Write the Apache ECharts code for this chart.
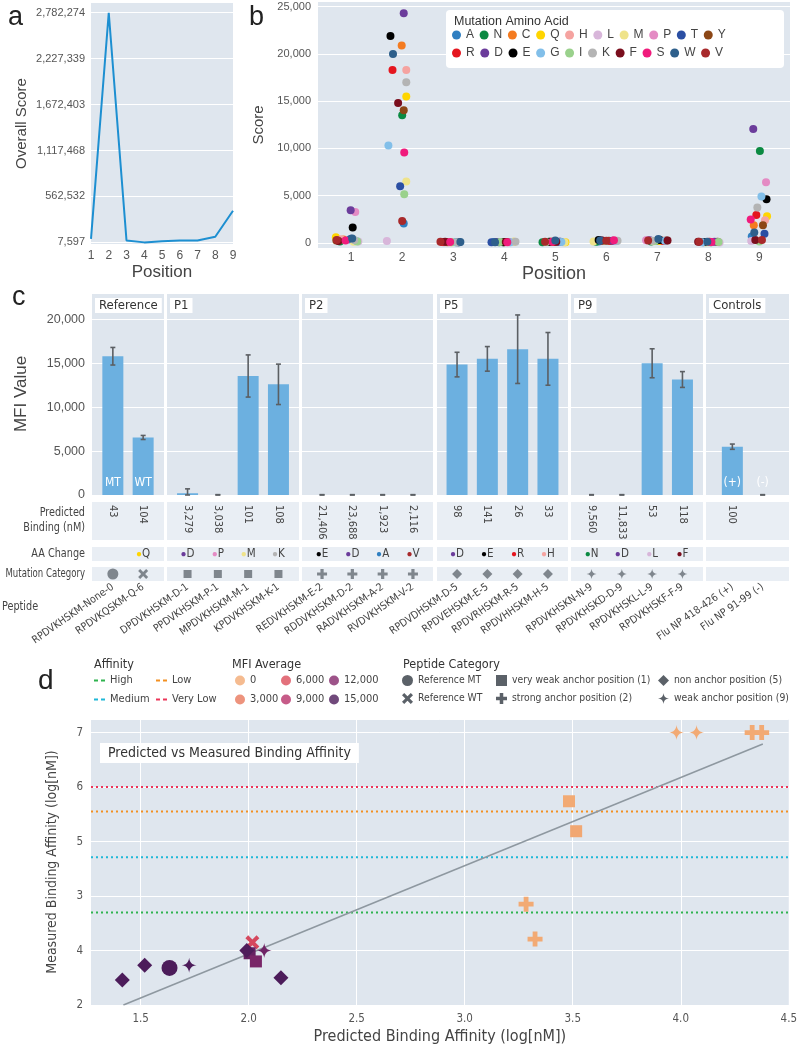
<!DOCTYPE html>
<html><head><meta charset="utf-8">
<script src="https://cdn.jsdelivr.net/npm/echarts@6/dist/echarts.min.js"></script>
<style>html,body{margin:0;padding:0;background:#fff}#c{width:800px;height:1050px}</style>
</head><body><div id="c"></div><script>
// ---------------- DATA ----------------
// Panel a
const positions = [1,2,3,4,5,6,7,8,9];
const overallScore = [50000, 2782274, 30000, 7597, 20000, 30000, 30000, 75000, 390000];
const overallTicks = [7597, 562532, 1117468, 1672403, 2227339, 2782274];

// Panel b  (order of amino acids)
const aminoAcids = ['A','N','C','Q','H','L','M','P','T','Y','R','D','E','G','I','K','F','S','W','V'];
const aaColors = ['#2f7fc1','#0b8a42','#f47b20','#ffd500','#f5a3a0','#d8b6da','#efe38a','#e48bc4','#2b4fa3','#8c4716',
                  '#e5161f','#6b3c9b','#000000','#82bfe9','#9ad18c','#b4b4b4','#7a0e1d','#f01b7c','#2e5f8b','#a8292b'];
const scoreTicks = [0,5000,10000,15000,20000,25000];
//                A     N     C     Q     H     L    M     P     T     Y     R     D     E     G     I     K     F     S     W     V
const scorePos1 = [350,  150,  350,  600,  380,  150, 100,  3250, 420,  250,  null, 3460, 1620, 200,  150,  300,  200,  250,  450,  300];
const scorePos2 = [2050, 13500,20900,15500,18300,200, 6500, null, 6000, 14050,18300,24300,21900,10300,5150, 17000,14800,9570, 20000,2300];
const scorePos3 = [60,   80,   70,   50,   60,   40,  50,   60,   70,   80,   90,   null, 60,   50,   70,   60,   100,  80,   90,   110];
const scorePos4 = [80,   60,   90,   100,  70,   90,  100,  80,   60,   70,   80,   90,   70,   60,   80,   100,  90,   70,   60,   null];
const scorePos5 = [80,   60,   100,  50,   90,   70,  60,   80,   100,  120,  90,   110,  100,  80,   90,   null, 100,  110,  250,  120];
const scorePos6 = [150,  120,  180,  200,  null, 160, 150,  200,  250,  220,  200,  230,  300,  180,  200,  210,  240,  260,  250,  220];
const scorePos7 = [200,  150,  220,  180,  250,  300, 170,  280,  260,  240,  200,  270,  300,  210,  190,  230,  250,  null, 400,  240];
const scorePos8 = [60,   50,   80,   70,   90,   40,  60,   90,   80,   100,  110,  100,  90,   70,   80,   null, 110,  90,   120,  100];
const scorePos9 = [660,  9720, 1870, 2800, 2400, 200, null, 6420, 970,  1870, 2950, 12050,4600, 4900, 150,  3750, 310,  2470, 1080, 310];
const jitterPos1 = [-0.03,-0.22,-0.15,-0.30,-0.20,0.14,0.05,0.08,0.00,-0.29,null,-0.01,0.03,0.10,0.12,0.06,-0.25,-0.11,0.02,-0.28];
const jitterPos2 = [0.03,0.00,-0.01,0.08,0.08,-0.30,0.08,null,-0.04,0.03,-0.19,0.03,-0.23,-0.27,0.04,0.08,-0.08,0.04,-0.18,0.00];
const jitterPos3 = [0.12,-0.20,-0.12,-0.05,-0.08,-0.18,0.00,-0.10,0.06,-0.14,-0.22,null,0.10,0.04,-0.03,0.08,-0.16,-0.06,0.14,-0.25];
const jitterPos4 = [-0.20,-0.10,0.05,0.18,0.10,0.15,0.20,-0.05,-0.25,0.00,0.08,-0.15,-0.02,0.12,-0.08,0.22,0.03,0.06,-0.18,null];
const jitterPos5 = [0.05,-0.25,-0.10,0.20,-0.05,0.15,0.18,-0.15,0.10,-0.08,-0.02,0.08,-0.12,0.12,-0.18,null,0.02,-0.06,0.00,-0.20];
const jitterPos6 = [-0.15,-0.20,-0.05,0.10,null,0.18,-0.25,0.15,-0.10,0.05,0.08,0.12,-0.15,0.20,-0.02,0.22,-0.08,0.15,-0.12,0.00];
const jitterPos7 = [0.02,-0.12,0.06,0.04,0.10,-0.20,-0.08,-0.22,0.00,0.18,0.12,-0.15,0.05,0.15,-0.05,-0.10,0.20,null,0.02,-0.18];
const jitterPos8 = [-0.10,0.05,0.15,-0.05,0.10,0.22,0.00,0.08,-0.15,0.18,0.02,0.12,-0.08,-0.12,0.20,null,-0.20,0.06,-0.02,-0.18];
const jitterPos9 = [-0.15,0.01,-0.11,0.15,0.11,-0.16,null,0.13,0.10,0.07,-0.06,-0.12,0.14,0.04,0.00,-0.04,-0.08,-0.17,-0.10,0.05];

// Panel c / d
const facetNames = ['Reference','P1','P2','P5','P9','Controls'];
const peptideRef = ['RPDVKHSKM-None-0','RPDVKQSKM-Q-6'];
const peptideP1 = ['DPDVKHSKM-D-1','PPDVKHSKM-P-1','MPDVKHSKM-M-1','KPDVKHSKM-K-1'];
const peptideP2 = ['REDVKHSKM-E-2','RDDVKHSKM-D-2','RADVKHSKM-A-2','RVDVKHSKM-V-2'];
const peptideP5 = ['RPDVDHSKM-D-5','RPDVEHSKM-E-5','RPDVRHSKM-R-5','RPDVHHSKM-H-5'];
const peptideP9 = ['RPDVKHSKN-N-9','RPDVKHSKD-D-9','RPDVKHSKL-L-9','RPDVKHSKF-F-9'];
const peptideCtrl = ['Flu NP 418-426 (+)','Flu NP 91-99 (-)'];
const mfiRef = [15800, 6550],  errRef = [1000, 230];
const mfiP1 = [200, 0, 13550, 12600], errP1 = [500, 40, 2400, 2300];
const mfiP2 = [0, 0, 0, 0], errP2 = [40, 40, 40, 40];
const mfiP5 = [14850, 15500, 16600, 15500], errP5 = [1400, 1400, 3900, 3000];
const mfiP9 = [0, 0, 15000, 13150], errP9 = [40, 40, 1650, 900];
const mfiCtrl = [5500, 0], errCtrl = [300, 40];
const barTextRef = ['MT','WT'], barTextCtrl = ['(+)','(-)'];
const predRef = [43, 104];
const predP1 = [3279, 3038, 101, 108];
const predP2 = [21406, 23688, 1923, 2116];
const predP5 = [98, 141, 26, 33];
const predP9 = [9560, 11833, 53, 118];
const predCtrl = [100, null];
const aaRef = [null, 'Q'], aaP1 = ['D','P','M','K'], aaP2 = ['E','D','A','V'], aaP5 = ['D','E','R','H'], aaP9 = ['N','D','L','F'], aaCtrl = [null, null];
const catRef = ['Reference MT','Reference WT'];
const catP1 = ['very weak anchor position (1)','very weak anchor position (1)','very weak anchor position (1)','very weak anchor position (1)'];
const catP2 = ['strong anchor position (2)','strong anchor position (2)','strong anchor position (2)','strong anchor position (2)'];
const catP5 = ['non anchor position (5)','non anchor position (5)','non anchor position (5)','non anchor position (5)'];
const catP9 = ['weak anchor position (9)','weak anchor position (9)','weak anchor position (9)','weak anchor position (9)'];
const catCtrl = [null, null];
// measured binding affinity (panel d, y)
const measRef = [2.68, 3.15];
const measP1 = [5.19, 5.74, 2.95, 2.80];
const measP2 = [7.0, 7.0, 3.85, 3.21];
const measP5 = [3.0, 2.5, 2.46, 2.73];
const measP9 = [7.0, 7.0, 2.73, 3.0];
const dXTicks = [1.5, 2.0, 2.5, 3.0, 3.5, 4.0, 4.5];
const dYTickLabels = ['2','4','3','5','6','7'];
const thrNames = ['High','Medium','Low','Very Low'];
const thrValues = [3.7, 4.71, 5.55, 6.0];
const thrColors = ['#2fb34f','#1fb8d8','#f39021','#ec3558'];
const fitX = [1.42, 4.38], fitY = [2.0, 6.79];
const mfiLegendNames = ['0','3,000','6,000','9,000','12,000','15,000'];
const mfiColors = ['#f2aa74','#e9785c','#dc4d5b','#b8326a','#84286c','#4c1c5a'];
const categoryNames = ['Reference MT','Reference WT','very weak anchor position (1)','strong anchor position (2)','non anchor position (5)','weak anchor position (9)'];

// ---------------- STYLE ----------------
const NARROW = "'Liberation Sans Narrow','DejaVu Sans Condensed','Roboto Condensed','Liberation Sans',sans-serif";
const SANS = "'Liberation Sans',Arial,sans-serif";
const BG = '#dfe6ee', ROWBG = '#e9eef4', WHITE = '#ffffff';
const symbolOf = {
  'Reference MT': 'circle',
  'Reference WT': 'path://M2,0L5,3L8,0L10,2L7,5L10,8L8,10L5,7L2,10L0,8L3,5L0,2Z',
  'very weak anchor position (1)': 'rect',
  'strong anchor position (2)': 'path://M3.4,0H6.6V3.4H10V6.6H6.6V10H3.4V6.6H0V3.4H3.4Z',
  'non anchor position (5)': 'diamond',
  'weak anchor position (9)': 'path://M5,0C5.4,3.2 6.8,4.6 10,5C6.8,5.4 5.4,6.8 5,10C4.6,6.8 3.2,5.4 0,5C3.2,4.6 4.6,3.2 5,0Z'
};
const symSizeD = {'Reference MT':16,'Reference WT':14,'very weak anchor position (1)':12,'strong anchor position (2)':15,'non anchor position (5)':15,'weak anchor position (9)':15};
const symSizeRow = {'Reference MT':11,'Reference WT':10,'very weak anchor position (1)':8,'strong anchor position (2)':10,'non anchor position (5)':10,'weak anchor position (9)':10};

const grids = [], xAxes = [], yAxes = [], series = [], legends = [], titles = [], graphics = [];
function addGrid(g){ grids.push(Object.assign({containLabel:false, show:true, backgroundColor:BG, borderWidth:0}, g)); return grids.length-1; }
function gText(text, x, y, o, sx){ return {type:'text', x, y, z:10, scaleX:sx||1, style:Object.assign({text, fill:'#333', fontSize:13, fontFamily:NARROW, align:'left', verticalAlign:'middle'}, o||{})}; }
const fmtNum = v => Math.round(v).toLocaleString('en-US');

// ---------------- PANEL A ----------------
let gi = addGrid({left:91, top:3, width:142, height:241});
xAxes.push({gridIndex:gi, type:'value', min:1, max:9, interval:1, axisLine:{show:false}, axisTick:{show:false}, splitLine:{show:false},
  axisLabel:{color:'#555', fontSize:12, margin:6, fontFamily:SANS},
  name:'Position', nameLocation:'middle', nameGap:20, nameTextStyle:{fontSize:17, color:'#444', fontFamily:SANS}});
yAxes.push({gridIndex:gi, type:'value', min:-12000, max:2900000, axisLine:{show:false},
  axisTick:{show:false, customValues:overallTicks},
  axisLabel:{customValues:overallTicks, formatter:fmtNum, color:'#555', fontSize:11, margin:6, fontFamily:SANS},
  splitLine:{show:true, lineStyle:{color:WHITE, width:1}},
  name:'Overall Score', nameLocation:'middle', nameGap:62, nameTextStyle:{fontSize:15, color:'#444', fontFamily:SANS}});
series.push({type:'line', xAxisIndex:gi, yAxisIndex:gi, data:positions.map((p,i)=>[p, overallScore[i]]), symbol:'none',
  lineStyle:{color:'#1d8fd1', width:2}, color:'#1d8fd1', silent:true});
graphics.push(gText('a', 8, 18, {fontSize:27, fontFamily:SANS, fill:'#222'}));

// ---------------- PANEL B ----------------
gi = addGrid({left:318, top:2, width:472, height:246});
xAxes.push({gridIndex:gi, type:'value', min:0.35, max:9.6, axisLine:{show:false}, axisTick:{show:false, customValues:positions}, splitLine:{show:false},
  axisLabel:{customValues:positions, color:'#555', fontSize:12, margin:4, fontFamily:SANS},
  name:'Position', nameLocation:'middle', nameGap:17, nameTextStyle:{fontSize:18, color:'#444', fontFamily:SANS}});
yAxes.push({gridIndex:gi, type:'value', min:-550, max:25500, axisLine:{show:false},
  axisTick:{show:false, customValues:scoreTicks},
  axisLabel:{customValues:scoreTicks, formatter:fmtNum, color:'#555', fontSize:11, margin:7, fontFamily:SANS},
  splitLine:{show:true, lineStyle:{color:WHITE, width:1}},
  name:'Score', nameLocation:'middle', nameGap:50, nameTextStyle:{fontSize:15, color:'#444', fontFamily:SANS}});
const scoreByPos = [scorePos1,scorePos2,scorePos3,scorePos4,scorePos5,scorePos6,scorePos7,scorePos8,scorePos9];
const jitterByPos = [jitterPos1,jitterPos2,jitterPos3,jitterPos4,jitterPos5,jitterPos6,jitterPos7,jitterPos8,jitterPos9];
aminoAcids.forEach((a,k)=>{
  const data = [];
  positions.forEach((p,i)=>{ const s = scoreByPos[i][k]; if (s != null) data.push([p + jitterByPos[i][k], s]); });
  series.push({type:'scatter', name:a, xAxisIndex:gi, yAxisIndex:gi, data, symbolSize:8, itemStyle:{color:aaColors[k], opacity:1}, color:aaColors[k], z:3});
});
graphics.push({type:'rect', z:1, shape:{x:446, y:10, width:338, height:58, r:4}, style:{fill:'#fff'}});
graphics.push(gText('Mutation Amino Acid', 454, 22, {fontSize:12.5, fontFamily:SANS, fill:'#333'}));
graphics.push(gText('b', 249, 18, {fontSize:27, fontFamily:SANS, fill:'#222'}));
[aminoAcids.slice(0,10), aminoAcids.slice(10)].forEach((row,r)=>{
  legends.push({left:452, top:29 + r*18, padding:0, orient:'horizontal', data:row, icon:'circle', itemWidth:9, itemHeight:9, itemGap:5.6,
    selectedMode:false, textStyle:{fontSize:12, color:'#444', width:14, fontFamily:SANS}});
});

// ---------------- PANEL C ----------------
const facetLeft = [92, 167, 302, 437, 571, 706];
const facetWidth = [72, 132, 131, 131, 132, 83];
const facetPep = [peptideRef, peptideP1, peptideP2, peptideP5, peptideP9, peptideCtrl];
const facetMfi = [mfiRef, mfiP1, mfiP2, mfiP5, mfiP9, mfiCtrl];
const facetErr = [errRef, errP1, errP2, errP5, errP9, errCtrl];
const facetPred = [predRef, predP1, predP2, predP5, predP9, predCtrl];
const facetAA = [aaRef, aaP1, aaP2, aaP5, aaP9, aaCtrl];
const facetCat = [catRef, catP1, catP2, catP5, catP9, catCtrl];
const facetBarText = [barTextRef, null, null, null, null, barTextCtrl];
const facetMeas = [measRef, measP1, measP2, measP5, measP9, null];
const aaRich = {t:{color:'#444', fontSize:11.5, fontFamily:NARROW}};
aminoAcids.forEach((a,k)=>{ aaRich['d'+a] = {color:aaColors[k], fontSize:10, fontFamily:SANS}; });
const STEP = 30.3;

function errRender(params, api){
  const x = api.value(0), lo = api.value(1), hi = api.value(2);
  const a = api.coord([x, lo]), b = api.coord([x, hi]);
  const st = {stroke:'#5b5f63', lineWidth:1.6};
  return {type:'group', children:[
    {type:'line', shape:{x1:a[0], y1:a[1], x2:b[0], y2:b[1]}, style:st},
    {type:'line', shape:{x1:a[0]-2.5, y1:a[1], x2:a[0]+2.5, y2:a[1]}, style:st},
    {type:'line', shape:{x1:b[0]-2.5, y1:b[1], x2:b[0]+2.5, y2:b[1]}, style:st}
  ]};
}

facetNames.forEach((fname, j)=>{
  const L = facetLeft[j], W = facetWidth[j];
  const n = facetPep[j].length;
  const idx = facetPep[j].map((_,i)=>i);
  const pad = (W/STEP - (n-1))/2;
  const xmin = -pad, xmax = n-1+pad;
  // bars
  const g1 = addGrid({left:L, top:293, width:W, height:202});
  const pred = facetPred[j];
  xAxes.push({gridIndex:g1, type:'value', min:xmin, max:xmax, axisLine:{show:false}, axisTick:{show:false, customValues:idx}, splitLine:{show:false},
    axisLabel:{customValues:idx, formatter:v=>{const p = pred[Math.round(v)]; return p==null?'':fmtNum(p);}, rotate:-90, margin:10, fontSize:11, color:'#444', fontFamily:NARROW}});
  const ya = {gridIndex:g1, type:'value', min:0, max:23000, interval:5000, axisLine:{show:false}, axisTick:{show:false},
    axisLabel:{show:j===0, showMaxLabel:false, formatter:fmtNum, color:'#555', fontSize:12.5, margin:7, fontFamily:SANS},
    splitLine:{show:true, lineStyle:{color:WHITE, width:1}}};
  if (j===0) Object.assign(ya, {name:'MFI Value', nameLocation:'middle', nameGap:62, nameTextStyle:{fontSize:17, color:'#444', fontFamily:SANS}});
  yAxes.push(ya);
  const bt = facetBarText[j];
  series.push({type:'bar', xAxisIndex:g1, yAxisIndex:g1, barWidth:21, data:idx.map(i=>[i, facetMfi[j][i]]),
    itemStyle:{color:'#6cb0e0'}, color:'#6cb0e0', silent:true,
    label:{show:!!bt, position:'insideBottom', distance:6, color:'#fff', fontSize:12, fontFamily:NARROW, formatter:p=> bt ? bt[p.dataIndex] : ''}});
  series.push({type:'custom', xAxisIndex:g1, yAxisIndex:g1, renderItem:errRender, clip:false, silent:true, z:5,
    data:idx.map(i=>[i, Math.max(0, facetMfi[j][i]-facetErr[j][i]), facetMfi[j][i]+facetErr[j][i]])});
  titles.push({text:fname, left:L+3, top:298, padding:[1,4,1,4], backgroundColor:'#fff', textStyle:{fontSize:13, fontWeight:'normal', color:'#333', fontFamily:NARROW}});
  // predicted row background
  const g2 = addGrid({left:L, top:502, width:W, height:38, backgroundColor:ROWBG});
  xAxes.push({gridIndex:g2, type:'value', min:xmin, max:xmax, show:false});
  yAxes.push({gridIndex:g2, type:'value', min:0, max:1, show:false});
  // AA change row
  const aa = facetAA[j];
  const g3 = addGrid({left:L, top:547, width:W, height:14, backgroundColor:ROWBG});
  xAxes.push({gridIndex:g3, type:'value', min:xmin, max:xmax, position:'bottom', offset:-7, axisLine:{show:false}, axisTick:{show:false, customValues:idx}, splitLine:{show:false},
    axisLabel:{customValues:idx, margin:0, verticalAlign:'middle', rich:aaRich, formatter:v=>{const a = aa[Math.round(v)]; return a ? '{d'+a+'|●}{t|'+a+'}' : '';}}});
  yAxes.push({gridIndex:g3, type:'value', min:0, max:1, show:false});
  // mutation category row + peptide labels
  const cat = facetCat[j];
  const g4 = addGrid({left:L, top:567, width:W, height:14, backgroundColor:ROWBG});
  xAxes.push({gridIndex:g4, type:'value', min:xmin, max:xmax, axisLine:{show:false}, axisTick:{show:false, customValues:idx}, splitLine:{show:false},
    axisLabel:{customValues:idx, formatter:v=>facetPep[j][Math.round(v)]||'', rotate:35, margin:5, fontSize:10.5, color:'#444', fontFamily:NARROW}});
  yAxes.push({gridIndex:g4, type:'value', min:-1, max:1, show:false});
  series.push({type:'scatter', xAxisIndex:g4, yAxisIndex:g4, silent:true,
    data:idx.filter(i=>cat[i]).map(i=>({value:[i,0], symbol:symbolOf[cat[i]], symbolSize:symSizeRow[cat[i]]})),
    itemStyle:{color:'#646b73'}});
});
graphics.push(gText('c', 12, 298, {fontSize:27, fontFamily:SANS, fill:'#222'}));
graphics.push(gText('Predicted\nBinding (nM)', 85, 520, {align:'right', lineHeight:15, fontSize:12.5, fill:'#444'}, 0.86));
graphics.push(gText('AA Change', 85, 554, {align:'right', fontSize:12.5, fill:'#444'}, 0.86));
graphics.push(gText('Mutation Category', 85, 574, {align:'right', fontSize:12.5, fill:'#444'}, 0.76));
graphics.push(gText('Peptide', 2, 607, {fontSize:12.5, fill:'#444'}, 0.86));

// ---------------- PANEL D ----------------
gi = addGrid({left:91, top:719, width:699, height:286});
xAxes.push({gridIndex:gi, type:'value', min:1.27, max:4.5, axisLine:{show:false}, axisTick:{show:false, customValues:dXTicks},
  axisLabel:{customValues:dXTicks, formatter:v=>v.toFixed(1), color:'#555', fontSize:11.5, margin:8, fontFamily:NARROW},
  splitLine:{show:true, lineStyle:{color:WHITE, width:1}},
  name:'Predicted Binding Affinity (log[nM])', nameLocation:'middle', nameGap:24, nameTextStyle:{fontSize:16, color:'#444', fontFamily:NARROW}});
yAxes.push({gridIndex:gi, type:'value', min:2, max:7.25, interval:1, axisLine:{show:false}, axisTick:{show:false},
  axisLabel:{showMaxLabel:false, formatter:v=>dYTickLabels[Math.round(v)-2], color:'#555', fontSize:11.5, margin:8, fontFamily:NARROW},
  splitLine:{show:true, lineStyle:{color:WHITE, width:1}},
  name:'Measured Binding Affinity (log[nM])', nameLocation:'middle', nameGap:32, nameTextStyle:{fontSize:14, color:'#444', fontFamily:NARROW}});
thrNames.forEach((nm,k)=>{
  series.push({type:'line', name:nm, xAxisIndex:gi, yAxisIndex:gi, data:[[1.27, thrValues[k]],[4.5, thrValues[k]]], symbol:'none', silent:true,
    color:thrColors[k], lineStyle:{color:thrColors[k], width:2, type:[2,3]}, z:2});
});
series.push({type:'line', xAxisIndex:gi, yAxisIndex:gi, data:fitX.map((x,i)=>[x, fitY[i]]), symbol:'none', silent:true,
  lineStyle:{color:'#8e98a0', width:1.6}, color:'#8e98a0', z:2});
const scatterIdx = [];
categoryNames.forEach(cn=>{
  const data = [];
  facetCat.forEach((cats,j)=>{ cats.forEach((c,i)=>{ if (c===cn) data.push([Math.log10(facetPred[j][i]), facetMeas[j][i], facetMfi[j][i]]); }); });
  scatterIdx.push(series.length);
  series.push({type:'scatter', name:cn, xAxisIndex:gi, yAxisIndex:gi, data, symbol:symbolOf[cn], symbolSize:symSizeD[cn], z:4, silent:true, itemStyle:{opacity:1}});
});
mfiLegendNames.forEach((nm,k)=>{
  series.push({type:'scatter', name:nm, xAxisIndex:gi, yAxisIndex:gi, data:[], color:mfiColors[k], itemStyle:{color:mfiColors[k]}});
});
graphics.push(gText('d', 38, 681, {fontSize:28, fontFamily:SANS, fill:'#222'}));
graphics.push(gText('Affinity', 94, 665, {fontSize:12.5, fill:'#333'}));
graphics.push(gText('MFI Average', 232, 665, {fontSize:12.5, fill:'#333'}));
graphics.push(gText('Peptide Category', 403, 665, {fontSize:12.5, fill:'#333'}));
const dashIcon = 'path://M0,0H4V2H0Z M7,0H11V2H7Z';
const legTxt = {fontSize:11, color:'#444', fontFamily:NARROW};
const legTxtCat = {fontSize:10.3, color:'#444', fontFamily:NARROW};
[[['High','Medium'],94],[['Low','Very Low'],156]].forEach(([d,l])=>{
  legends.push({left:l, top:675, orient:'vertical', padding:0, itemGap:8, data:d, icon:dashIcon, itemWidth:11, itemHeight:2, selectedMode:false, textStyle:legTxt});
});
[[['0','3,000'],235],[['6,000','9,000'],281],[['12,000','15,000'],329]].forEach(([d,l])=>{
  legends.push({left:l, top:675, orient:'vertical', padding:0, itemGap:8, data:d, icon:'circle', itemWidth:10, itemHeight:10, selectedMode:false, textStyle:legTxt});
});
[[['Reference MT','Reference WT'],402],[['very weak anchor position (1)','strong anchor position (2)'],496],[['non anchor position (5)','weak anchor position (9)'],658]].forEach(([d,l])=>{
  legends.push({left:l, top:675, orient:'vertical', padding:0, data:d, itemWidth:11, itemHeight:11, itemGap:7, selectedMode:false,
    itemStyle:{color:'#5b6168'}, textStyle:legTxtCat});
});
titles.push({text:'Predicted vs Measured Binding Affinity', left:100, top:743, padding:[3,8,3,8], backgroundColor:'#fff',
  textStyle:{fontSize:14, fontWeight:'normal', color:'#333', fontFamily:NARROW}});

const option = {
  animation:false, backgroundColor:'#fff', textStyle:{fontFamily:SANS},
  grid:grids, xAxis:xAxes, yAxis:yAxes, series, legend:legends, title:titles,
  visualMap:[{type:'continuous', show:false, min:0, max:15000, dimension:2, seriesIndex:scatterIdx, inRange:{color:mfiColors}}],
  graphic:{elements:graphics}
};
const chart = echarts.init(document.getElementById('c'), null, {renderer:'canvas'});
chart.setOption(option);
</script></body></html>
